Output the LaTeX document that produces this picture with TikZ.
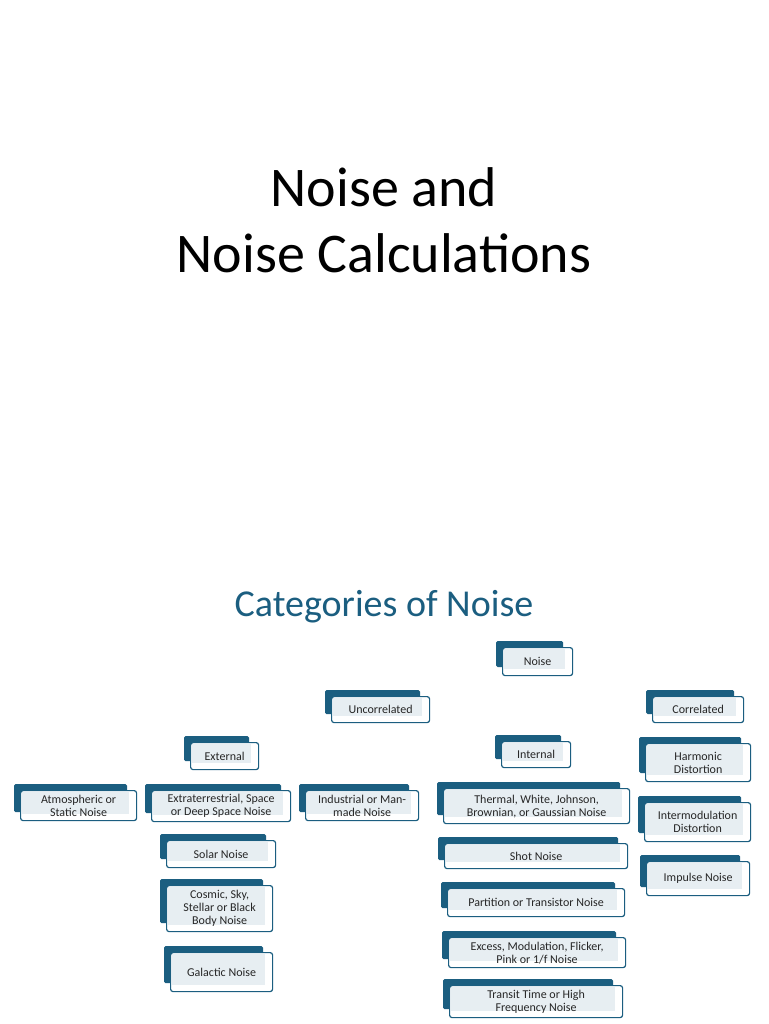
\documentclass[tikz,border=0pt]{standalone}
\usepackage{fontspec}
\setmainfont{Carlito}
\usetikzlibrary{backgrounds}
\definecolor{teal1}{HTML}{1B5E80}
\definecolor{inn}{HTML}{E7EEF2}
\tikzset{
  tab/.style={fill=teal1, rounded corners=1.5pt},
  box/.style={draw=teal1, line width=1.2pt, fill=white, rounded corners=2.5pt, inner sep=0pt},
  inr/.style={fill=inn},
  lab/.style={font=\fontsize{12}{13}\selectfont, align=center, text=black!85},
  conn/.style={draw=teal1, line width=1.3pt},
}
\newcommand{\nd}[6]{%
  \fill[tab] ({#2-6},{#3-6}) rectangle ({#4-9},{#5-8});
  \node[box, minimum width={(#4-#2)*1pt}, minimum height={(#5-#3)*1pt}, anchor=north west] (#1) at (#2,#3) {};
  \fill[inr] ({#2+2},{#3+2}) rectangle ({#4-7},{#5-6});
  \node[lab] at (#1.center) {#6};
}
\begin{document}
\begin{tikzpicture}[x=1pt,y=-1pt]
\fill[white] (0,0) rectangle (768,1024);
\node[font=\fontsize{56}{66}\selectfont, align=center] (title) at (384,220) {Noise and\\Noise Calculations};
\node[font=\fontsize{38}{44}\selectfont, text=teal1] (sub) at (384,607) {Categories of Noise};

\nd{noise}{502}{647}{572}{675}{Noise}
\nd{unc}{331}{696}{429}{722}{Uncorrelated}
\nd{cor}{652}{696}{743}{722}{Correlated}
\nd{ext}{190}{742}{258}{769}{External}
\nd{int}{501}{741}{570}{767}{Internal}
\nd{atm}{20}{790}{136}{820}{Atmospheric or\\Static Noise}
\nd{xtr}{151}{790}{290}{821}{Extraterrestrial, Space\\or Deep Space Noise}
\nd{ind}{305}{790}{418}{820}{Industrial or Man-\\made Noise}
\nd{sol}{166}{840}{275}{867}{Solar Noise}
\nd{cos}{166}{885}{272}{931}{Cosmic, Sky,\\Stellar or Black\\Body Noise}
\nd{gal}{170}{952}{272}{991}{Galactic Noise}
\nd{thm}{443}{788}{629}{823}{Thermal, White, Johnson,\\Brownian, or Gaussian Noise}
\nd{sht}{444}{843}{627}{868}{Shot Noise}
\nd{par}{447}{888}{624}{916}{Partition or Transistor Noise}
\nd{exc}{448}{937}{625}{967}{Excess, Modulation, Flicker,\\Pink or 1/f Noise}
\nd{trn}{449}{985}{622}{1017}{Transit Time or High\\Frequency Noise}
\nd{har}{645}{743}{750}{781}{Harmonic\\Distortion}
\nd{imd}{644}{802}{750}{841}{Intermodulation\\Distortion}
\nd{imp}{646}{861}{749}{895}{Impulse Noise}

\begin{scope}[on background layer]
\draw[conn] ([xshift=-2]noise.south) -- ++(0,8) coordinate (b1);
\draw[conn] ([xshift=-8]unc.north) |- (b1) -| ([xshift=-7]cor.north);
\draw[conn] ([xshift=-8]unc.south) -- ++(0,7) coordinate (b2);
\draw[conn] ([xshift=-8]ext.north) |- (b2) -| ([xshift=-7]int.north);
\draw[conn] ([xshift=-8]ext.south) -- ++(0,7) coordinate (b3);
\draw[conn] ([xshift=-8]atm.north) |- (b3) -| ([xshift=4]ind.north);
\draw[conn] ([xshift=-8]xtr.north) -- ([xshift=-8]xtr.north |- b3);
\draw[conn] ([xshift=-8]xtr.south) -- ([xshift=-8]xtr.south |- gal.north);
\draw[conn] ([xshift=-7]int.south) -- ([xshift=-7]int.south |- trn.north);
\draw[conn] ([xshift=-7]cor.south) -- ([xshift=-7]cor.south |- imp.north);
\end{scope}
\end{tikzpicture}
\end{document}
